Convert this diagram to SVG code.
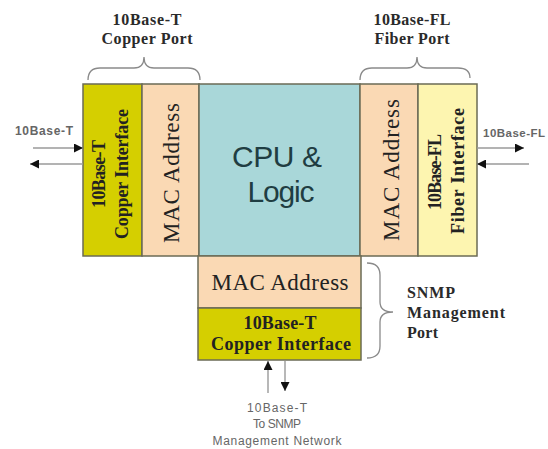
<svg xmlns="http://www.w3.org/2000/svg" width="548" height="449" viewBox="0 0 548 449">
<style>
.box{stroke:#6b6b55;stroke-width:1.5}
.olive{fill:#d5cf00}
.peach{fill:#fad9b4}
.teal{fill:#a9d7d9}
.lyel{fill:#fdf5b0}
.brace{fill:none;stroke:#8a8a8a;stroke-width:1.3}
.conn{stroke:#9a9a9a;stroke-width:1.4;fill:none}
.lbl{font-family:"Liberation Serif",serif;font-weight:bold;fill:#2a2a2a}
.mac{font-family:"Liberation Serif",serif;font-size:23px;fill:#222}
.ifc{font-family:"Liberation Serif",serif;font-weight:bold;font-size:18px;fill:#222}
.small{font-family:"Liberation Sans",sans-serif;fill:#666}
</style>
<defs>
<marker id="ah" markerUnits="userSpaceOnUse" markerWidth="9" markerHeight="9" refX="9" refY="4.5" orient="auto">
<path d="M0,0 L9,4.5 L0,9 z" fill="#111"/>
</marker>
</defs>
<rect width="548" height="449" fill="#fff"/>

<g id="copper-interface">
<rect class="box olive" x="83" y="84" width="59" height="172"/>
<text class="ifc" transform="translate(105,174) rotate(-90)" text-anchor="middle" textLength="68">10Base-T</text>
<text class="ifc" transform="translate(128,174) rotate(-90)" text-anchor="middle" textLength="130">Copper Interface</text>
</g>
<g id="copper-mac">
<rect class="box peach" x="142" y="84" width="57" height="172"/>
<text class="mac" transform="translate(179,173) rotate(-90)" text-anchor="middle" textLength="140">MAC Address</text>
</g>
<g id="cpu">
<rect class="box teal" x="199" y="84" width="161" height="172"/>
<text x="277" y="167" text-anchor="middle" font-family="Liberation Sans,sans-serif" font-size="30" fill="#1f3d42" textLength="90">CPU &amp;</text>
<text x="281" y="202" text-anchor="middle" font-family="Liberation Sans,sans-serif" font-size="30" fill="#1f3d42" textLength="67">Logic</text>
</g>
<g id="fiber-mac">
<rect class="box peach" x="360" y="84" width="58" height="172"/>
<text class="mac" transform="translate(399,170) rotate(-90)" text-anchor="middle" textLength="142">MAC Address</text>
</g>
<g id="fiber-interface">
<rect class="box lyel" x="418" y="84" width="59" height="172"/>
<text class="ifc" transform="translate(441,172) rotate(-90)" text-anchor="middle" textLength="76">10Base-FL</text>
<text class="ifc" transform="translate(464,171) rotate(-90)" text-anchor="middle" textLength="126">Fiber Interface</text>
</g>
<g id="snmp-mac">
<rect class="box peach" x="198" y="256" width="163" height="52"/>
<text class="mac" x="280" y="290" text-anchor="middle" textLength="137">MAC Address</text>
</g>
<g id="snmp-interface">
<rect class="box olive" x="198" y="308" width="163" height="52"/>
<text class="ifc" x="280" y="329" text-anchor="middle" textLength="73">10Base-T</text>
<text class="ifc" x="281" y="350" text-anchor="middle" textLength="140">Copper Interface</text>
</g>

<g id="labels">
<text class="lbl" x="147" y="25" font-size="16" text-anchor="middle" textLength="69">10Base-T</text>
<text class="lbl" x="147" y="44" font-size="16" text-anchor="middle" textLength="91">Copper Port</text>
<text class="lbl" x="412" y="25" font-size="16" text-anchor="middle" textLength="77">10Base-FL</text>
<text class="lbl" x="412" y="44" font-size="16" text-anchor="middle" textLength="75">Fiber Port</text>
<text class="lbl" x="407" y="298" font-size="16" textLength="48">SNMP</text>
<text class="lbl" x="407" y="318" font-size="16" textLength="98">Management</text>
<text class="lbl" x="407" y="338" font-size="16" textLength="31">Port</text>
<text class="small" x="15" y="135" font-size="12" font-weight="bold" fill="#555" textLength="58">10Base-T</text>
<text class="small" x="483" y="137" font-size="11.5" font-weight="bold" fill="#555" textLength="62">10Base-FL</text>
<text class="small" x="277" y="412" font-size="12" text-anchor="middle" textLength="60">10Base-T</text>
<text class="small" x="277" y="428" font-size="12" text-anchor="middle" textLength="48">To SNMP</text>
<text class="small" x="277" y="445" font-size="12" text-anchor="middle" textLength="129">Management Network</text>
</g>

<g id="braces">
<path class="brace" d="M88 80 Q88 68 100 68 L134 68 Q144 68 144 57 Q144 68 154 68 L188 68 Q200 68 200 80"/>
<path class="brace" d="M360 80 Q360 68 372 68 L407 68 Q417 68 417 57 Q417 68 427 68 L458 68 Q470 68 470 78"/>
<path class="brace" d="M367 263 Q380 263 380 275 L380 302 Q380 312 393 312 Q380 312 380 322 L380 346 Q380 358 367 358"/>
</g>

<g id="connectors">
<line class="conn" x1="33" y1="148" x2="83" y2="148" marker-end="url(#ah)"/>
<line class="conn" x1="83" y1="164" x2="30" y2="164" marker-end="url(#ah)"/>
<line class="conn" x1="477" y1="148" x2="524" y2="148" marker-end="url(#ah)"/>
<line class="conn" x1="529" y1="164" x2="477" y2="164" marker-end="url(#ah)"/>
<line class="conn" x1="268" y1="393" x2="268" y2="361" marker-end="url(#ah)"/>
<line class="conn" x1="285" y1="361" x2="285" y2="391" marker-end="url(#ah)"/>
</g>
</svg>
